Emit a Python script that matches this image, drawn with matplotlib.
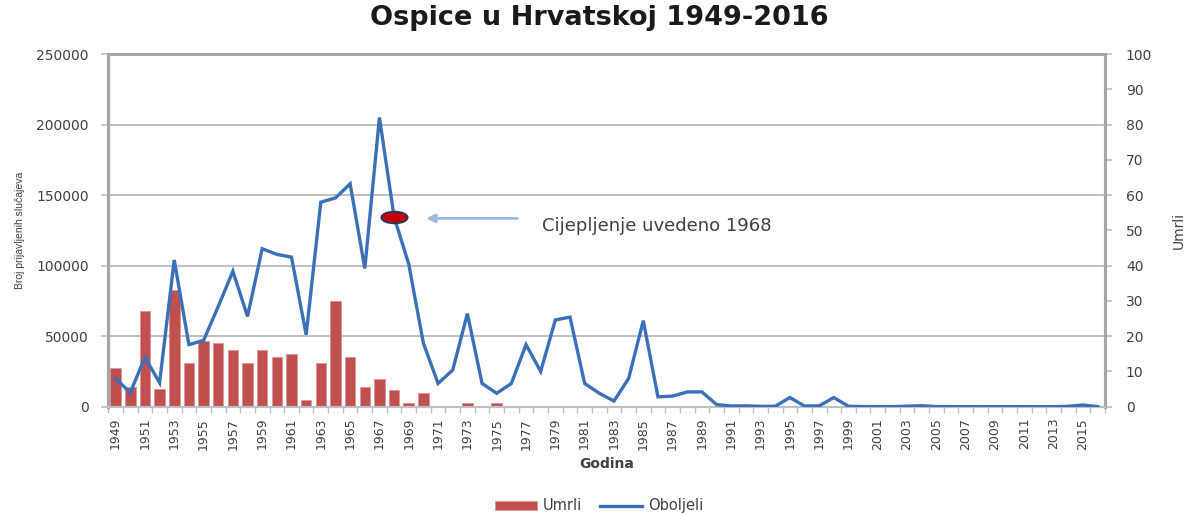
import matplotlib
matplotlib.use("Agg")
import matplotlib.pyplot as plt
import numpy as np
from matplotlib.path import Path
from matplotlib.transforms import Affine2D
from matplotlib.ticker import FixedLocator

years = list(range(1949, 2017))

oboljeli = [20000, 10000, 35000, 17000, 104000, 44000, 47000, 71000, 96000, 64000,
            112000, 108000, 106000, 51000, 145000, 148000, 158000, 98000, 205000, 134500,
            101000, 45000, 16500, 26000, 66000, 16500, 9500, 16500, 44000, 25000,
            61500, 63500, 16500, 9500, 4000, 20000, 61000, 7000, 7500, 10500,
            10500, 1500, 500, 600, 300, 300, 6500, 500, 600, 6500,
            300, 100, 80, 60, 400, 700, 100, 50, 30, 50,
            40, 30, 20, 10, 10, 300, 1200, 50]

umrli = [11, 5.5, 27, 5, 33, 12.5, 18.5, 18, 16, 12.5,
         16, 14, 15, 2, 12.5, 30, 14, 5.7, 7.8, 4.7,
         1, 3.8, 0, 0, 1, 0, 1, 0, 0, 0,
         0, 0, 0, 0, 0, 0, 0, 0, 0, 0,
         0, 0, 0, 0, 0, 0, 0, 0, 0, 0,
         0, 0, 0, 0, 0, 0, 0, 0, 0, 0,
         0, 0, 0, 0, 0, 0, 0, 0]

left_ticks = [0, 50000, 100000, 150000, 200000, 250000]
right_ticks = [0, 10, 20, 30, 40, 50, 60, 70, 80, 90, 100]
label_years = years[::2]

vacc_year = 1968
vacc_text = "Cijepljenje uvedeno 1968"

title = "Ospice u Hrvatskoj 1949-2016"

plt.rcParams['font.family'] = ['DejaVu Sans']

fig = plt.figure(figsize=(11.86, 5.13), dpi=100)
ax1 = fig.add_axes([0.0913, 0.2072, 0.8404, 0.6875])
ax2 = ax1.twinx()
ax1.set_zorder(2)
ax2.set_zorder(1)
ax1.patch.set_visible(False)
ax2.patch.set_facecolor('white')

x = np.arange(len(years))

# bars (deaths) on right axis
ax2.bar(x, umrli, width=0.72, color='#C0504D', edgecolor='#D99694', linewidth=0.6,
        label='Umrli', zorder=2)
ax2.set_ylim(0, 100)
ax2.yaxis.set_major_locator(FixedLocator(right_ticks[::2]))
ax2.yaxis.set_minor_locator(FixedLocator(right_ticks[1::2]))
ax2.yaxis.set_minor_formatter(matplotlib.ticker.FuncFormatter(lambda v, p: f"{int(v)}"))
ax2.grid(True, which='major', axis='y', color='#C0C0C0', linewidth=1.4, zorder=0)
ax2.set_axisbelow(True)
ax2.tick_params(axis='y', which='both', length=5, width=1.2, color='#BFBFBF',
                labelsize=10, labelcolor='#404040', pad=10)
ax2.set_ylabel('Umrli', fontsize=10, color='#404040', labelpad=14)

# line (cases) on left axis
ax1.plot(x, oboljeli, color='#3A70B8', linewidth=2.4, label='Oboljeli', zorder=3,
         solid_joinstyle='miter')
ax1.set_ylim(0, 250000)
ax1.set_xlim(-0.5, len(years) - 0.5)
ax1.set_yticks(left_ticks)
ax1.set_yticklabels([str(v) for v in left_ticks])
ax1.tick_params(axis='y', length=5, width=1.2, color='#BFBFBF', labelsize=10,
                labelcolor='#404040', pad=9)
ax1.set_ylabel('Broj prijavljenih slučajeva', fontsize=7.5, color='#404040',
               family=['Liberation Sans', 'DejaVu Sans'], labelpad=8)

# x axis
lab_idx = [years.index(y) for y in label_years]
ax1.set_xticks(lab_idx)
ax1.set_xticklabels([str(y) for y in label_years], rotation=90, fontsize=9, color='#404040')
ax1.set_xticks(np.arange(len(years) + 1) - 0.5, minor=True)
ax1.tick_params(axis='x', which='major', length=0, pad=8)
ax1.tick_params(axis='x', which='minor', length=4, width=1, color='#BFBFBF')
ax2.tick_params(axis='x', which='both', length=0)
ax1.set_xlabel('Godina', fontsize=10, fontweight='bold', color='#404040', labelpad=5)

for a in (ax1, ax2):
    a.spines['left'].set_color('#A6A6A6')
    a.spines['left'].set_linewidth(2.2)
    a.spines['right'].set_color('#A6A6A6')
    a.spines['right'].set_linewidth(2.2)
    a.spines['top'].set_color('#A6A6A6')
    a.spines['top'].set_linewidth(2.0)
    a.spines['bottom'].set_color('#BFBFBF')
    a.spines['bottom'].set_linewidth(1.5)

# vaccination marker
vi = years.index(vacc_year)
ell = Path.unit_circle().transformed(Affine2D().scale(1.0, 0.45))
ax1.plot([vi], [oboljeli[vi]], marker=ell, markersize=19, markerfacecolor='#C00000',
         markeredgecolor='#1F3864', markeredgewidth=1.2, zorder=5, linestyle='none')

ax1.annotate('', xy=(vi + 2.0, oboljeli[vi] - 1000), xytext=(vi + 8.6, oboljeli[vi] - 1000),
             arrowprops=dict(arrowstyle='-|>,head_length=0.5,head_width=0.25',
                             color='#9DB9DE', linewidth=2.0), zorder=4)
ax1.text(vi + 10.1, oboljeli[vi] - 6500, vacc_text, fontsize=13, color='#404040',
         va='center', ha='left', zorder=4)

fig.text(0.505, 0.965, title, ha='center', va='center', fontsize=19.5,
         fontweight='bold', color='#1a1a1a')

h2, l2 = ax2.get_legend_handles_labels()
h1, l1 = ax1.get_legend_handles_labels()
fig.legend(h2 + h1, l2 + l1, loc='center', bbox_to_anchor=(0.505, 0.014), ncol=2,
           frameon=False, fontsize=10.5, handlelength=2.9, handleheight=0.55,
           columnspacing=1.2, handletextpad=0.4, labelcolor='#404040')

fig.savefig('out.png', dpi=100)
